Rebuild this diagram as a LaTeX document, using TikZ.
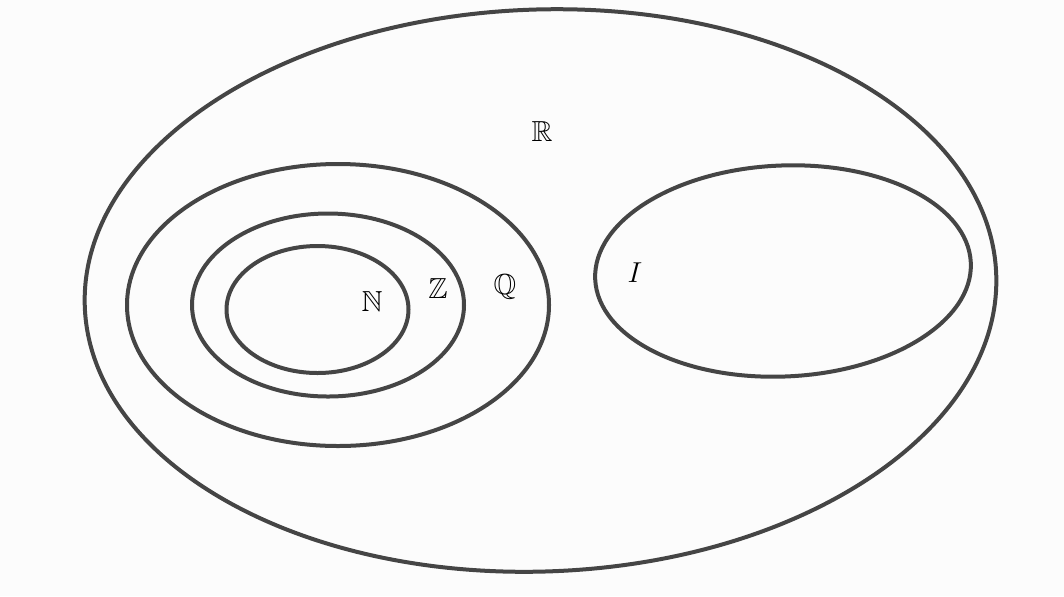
\documentclass[tikz,border=0pt]{standalone}
\usepackage{amssymb}
\begin{document}
\begin{tikzpicture}[x=0.5pt,y=-0.5pt,
  setline/.style={draw=black!73, line width=2pt},
  setlabel/.style={font=\fontsize{14.5}{17}\selectfont, inner sep=0pt}]
\fill[black!1] (0,0) rectangle (1064,596);
\useasboundingbox (0,0) rectangle (1064,596);
\draw[setline] (540.5,290.5) ellipse [x radius=456, y radius=281, rotate=2];
\draw[setline] (338,305) ellipse [x radius=211, y radius=141];
\draw[setline] (328,305) ellipse [x radius=136, y radius=91.5];
\draw[setline] (317.5,309.5) ellipse [x radius=91, y radius=63.5];
\draw[setline] (783,271) ellipse [x radius=188, y radius=105.5, rotate=2.5];
\node[setlabel] (R) at (542,132) {$\mathbb{R}$};
\node[setlabel] (Q) at (505,287) {$\mathbb{Q}$};
\node[setlabel] (Z) at (438,288) {$\mathbb{Z}$};
\node[setlabel] (N) at (372,301) {$\mathbb{N}$};
\node[setlabel] (I) at (635,273) {$I$};
\end{tikzpicture}
\end{document}
